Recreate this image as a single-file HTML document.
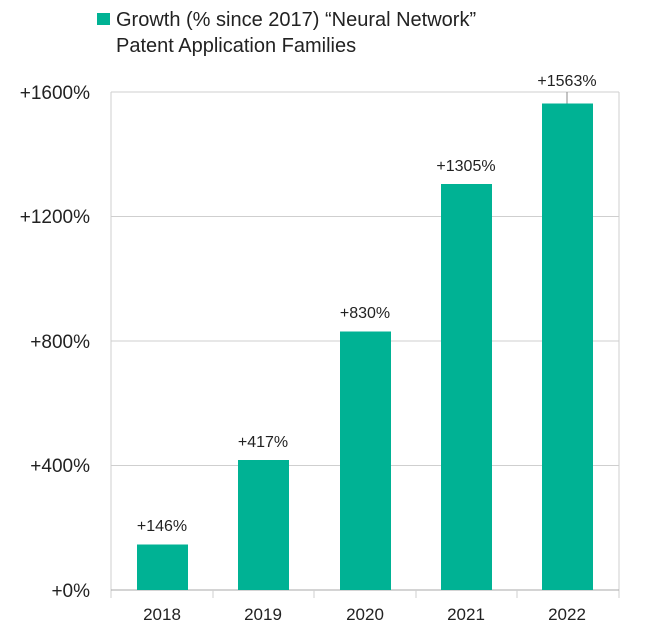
<!DOCTYPE html>
<html><head><meta charset="utf-8"><style>
body{margin:0;background:#fff;width:650px;height:636px;overflow:hidden}
</style></head><body>
<svg width="650" height="636" xmlns="http://www.w3.org/2000/svg" font-family="Liberation Sans, sans-serif">
<rect x="97" y="13" width="13" height="12" fill="#00b294"/>
<text x="116" y="26" font-size="20" fill="#222">Growth (% since 2017) “Neural Network”</text>
<text x="116" y="52" font-size="20" fill="#222">Patent Application Families</text>
<g stroke="#cfcfcf" stroke-width="1">
<line x1="111" y1="92" x2="619" y2="92"/>
<line x1="111" y1="216.5" x2="619" y2="216.5"/>
<line x1="111" y1="341" x2="619" y2="341"/>
<line x1="111" y1="465.5" x2="619" y2="465.5"/>
<line x1="111" y1="92" x2="111" y2="598"/>
<line x1="619" y1="92" x2="619" y2="598"/>
<line x1="111" y1="590" x2="619" y2="590" stroke="#aaa"/>
<line x1="213" y1="590" x2="213" y2="598"/>
<line x1="314" y1="590" x2="314" y2="598"/>
<line x1="416" y1="590" x2="416" y2="598"/>
<line x1="517" y1="590" x2="517" y2="598"/>
<line x1="567" y1="92" x2="567" y2="104" stroke="#888"/>
</g>
<g fill="#00b294">
<rect x="137" y="544.5" width="51" height="45.5"/>
<rect x="238" y="460" width="51" height="130"/>
<rect x="340" y="331.5" width="51" height="258.5"/>
<rect x="441" y="184" width="51" height="406"/>
<rect x="542" y="103.5" width="51" height="486.5"/>
</g>
<g font-size="19" fill="#222" text-anchor="end">
<text x="90" y="99">+1600%</text>
<text x="90" y="223">+1200%</text>
<text x="90" y="348">+800%</text>
<text x="90" y="472">+400%</text>
<text x="90" y="597">+0%</text>
</g>
<g font-size="16" fill="#222" text-anchor="middle">
<text x="162" y="531">+146%</text>
<text x="263" y="447">+417%</text>
<text x="365" y="318">+830%</text>
<text x="466" y="171">+1305%</text>
<text x="567" y="86">+1563%</text>
</g>
<g font-size="17" fill="#222" text-anchor="middle">
<text x="162" y="620">2018</text>
<text x="263" y="620">2019</text>
<text x="365" y="620">2020</text>
<text x="466" y="620">2021</text>
<text x="567" y="620">2022</text>
</g>
</svg>
</body></html>
